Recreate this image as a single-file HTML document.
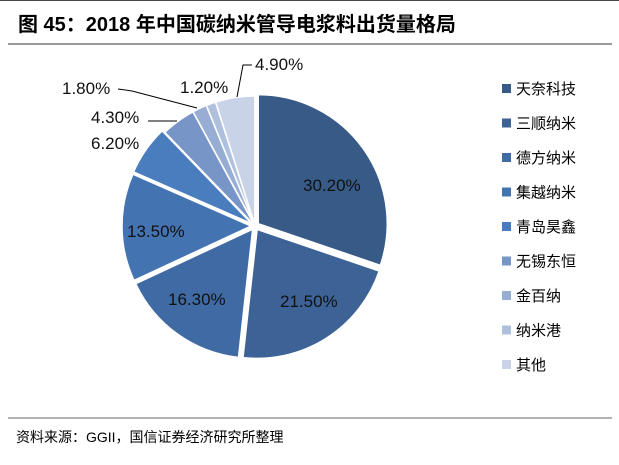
<!DOCTYPE html>
<html><head><meta charset="utf-8"><style>
body{margin:0;width:619px;height:460px;background:#fff;overflow:hidden;font-family:"Liberation Sans","Noto Sans CJK SC",sans-serif;}
</style></head><body>
<svg id="s" width="619" height="460" xmlns="http://www.w3.org/2000/svg" font-family="Liberation Sans, Noto Sans CJK SC, sans-serif">
<line x1="0" y1="0.5" x2="619" y2="0.5" stroke="#444" stroke-width="1"/>
<text x="18" y="31" font-size="20" font-weight="bold" fill="#000">图 45：2018 年中国碳纳米管导电浆料出货量格局</text>
<line x1="8" y1="44" x2="612" y2="44" stroke="#333" stroke-width="1"/>
<line x1="8" y1="418" x2="612" y2="418" stroke="#666" stroke-width="1"/>
<text x="16" y="442" font-size="14" fill="#000">资料来源：GGII，国信证券经济研究所整理</text>
<g id="pie"></g>
<g font-size="17" fill="#111">
<text x="303" y="191">30.20%</text>
<text x="280" y="307">21.50%</text>
<text x="168" y="305">16.30%</text>
<text x="127" y="237">13.50%</text>
<text x="91" y="149">6.20%</text>
<text x="91" y="123">4.30%</text>
<text x="62" y="94">1.80%</text>
<text x="180" y="93">1.20%</text>
<text x="255" y="70">4.90%</text>
</g>
<g stroke="#000" stroke-width="1" fill="none">
<polyline points="118,89 132,91 197,108"/>
<line x1="148" y1="121" x2="177" y2="121"/>
<polyline points="252,65 243,65 237,97"/>
</g>
<g id="leg" font-size="15" fill="#000"></g>
</svg>
<script>
var d=[30.2,21.5,16.3,13.5,6.2,4.3,1.8,1.2,4.9];
var c=["#385a86","#3c6296","#406aa4","#4473b2","#4a7dbe","#7895c7","#97add3","#afc0de","#c9d3e7"];
var n=["天奈科技","三顺纳米","德方纳米","集越纳米","青岛昊鑫","无锡东恒","金百纳","纳米港","其他"];
var cx=255,cy=226,r=129,a=0,tot=d.reduce((x,y)=>x+y),h="";
for(var i=0;i<d.length;i++){var s=a,e=a+d[i]/tot*2*Math.PI;a=e;
var m=(s+e)/2,off=i<5?4:1,ox=cx+off*Math.sin(m),oy=cy-off*Math.cos(m);
var x1=ox+r*Math.sin(s),y1=oy-r*Math.cos(s),x2=ox+r*Math.sin(e),y2=oy-r*Math.cos(e);
h+='<path d="M'+ox+','+oy+' L'+x1+','+y1+' A'+r+','+r+' 0 '+((e-s)>Math.PI?1:0)+' 1 '+x2+','+y2+' Z" fill="'+c[i]+'" stroke="#fff" stroke-width="1.5"/>';}
document.getElementById('pie').innerHTML=h;
var l="";for(var i=0;i<9;i++){var y=89+i*34.5;l+='<rect x="502" y="'+(y-5)+'" width="9" height="9" fill="'+c[i]+'"/><text x="516" y="'+(y+5)+'">'+n[i]+'</text>';}
document.getElementById('leg').innerHTML=l;
</script>
</body></html>
